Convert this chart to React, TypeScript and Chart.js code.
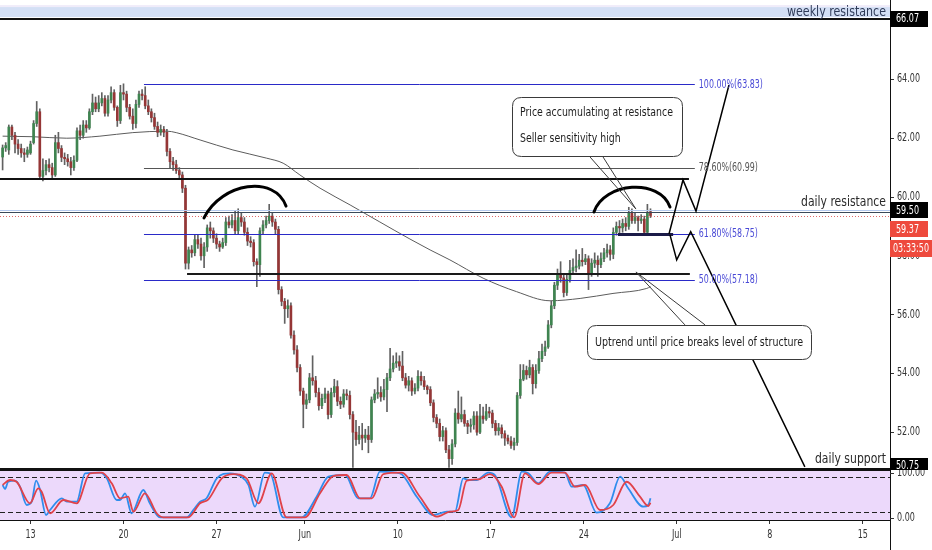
import React, { useEffect, useRef } from 'react';
import { Chart, registerables } from 'chart.js';

Chart.register(...registerables);

const FONT = '"DejaVu Sans Condensed", "DejaVu Sans", sans-serif';

// ---- 4h candles (bar index: 0 = Mon 13 May) ----
const firstBar = -9;
const opens = [
  61.36, 61.67, 61.60, 62.38, 62.10, 61.80, 61.65, 61.50, 61.45, 61.50,
  61.85, 62.50, 62.90, 60.70, 60.90, 61.10, 61.00, 60.75, 61.85, 61.65,
  61.35, 61.30, 61.20, 61.00, 61.25, 62.25, 62.10, 62.45, 62.35, 62.90,
  63.20, 63.00, 63.20, 63.35, 62.85, 63.30, 63.55, 63.05, 62.60, 63.55,
  63.50, 63.05, 62.75, 62.50, 63.15, 63.50, 63.45, 63.10, 62.90, 62.70,
  62.40, 62.20, 62.30, 62.20, 61.55, 61.20, 61.10, 60.90, 60.75, 60.30,
  57.75, 58.20, 58.10, 58.55, 58.40, 58.00, 58.30, 58.95, 58.85, 58.60,
  58.40, 58.30, 58.45, 59.15, 59.05, 59.20, 58.85, 59.30, 59.15, 58.80,
  58.50, 58.45, 57.80, 57.70, 58.85, 59.05, 59.20, 59.35, 59.15, 58.90,
  56.85, 56.45, 56.20, 56.30, 55.30, 54.80, 54.20, 53.40, 52.95, 53.10,
  53.85, 53.75, 53.35, 52.90, 53.15, 53.30, 52.60, 53.35, 53.55, 53.05,
  52.95, 53.30, 53.25, 52.60, 52.00, 51.75, 51.90, 51.80, 51.90, 51.75,
  53.10, 53.30, 53.35, 53.20, 53.45, 53.85, 54.15, 54.35, 54.40, 54.25,
  53.85, 53.60, 53.75, 53.40, 53.50, 53.90, 53.75, 53.55, 53.45, 53.00,
  52.50, 52.30, 51.85, 52.05, 51.40, 51.10, 51.60, 52.65, 52.45, 52.60,
  52.30, 52.20, 52.25, 52.55, 52.00, 52.55, 52.45, 52.70, 52.65, 52.30,
  52.05, 52.15, 51.95, 51.80, 51.70, 51.55, 51.65, 53.25, 53.80, 54.10,
  53.95, 54.20, 53.65, 54.10, 54.50, 54.75, 54.90, 55.65, 56.30, 57.00,
  57.35, 57.25, 56.75, 57.20, 57.50, 57.60, 57.65, 57.85, 57.80, 57.90,
  57.40, 57.75, 57.85, 57.70, 57.90, 58.10, 58.20, 58.05, 58.80, 59.00,
  58.95, 59.10, 59.00, 59.45, 59.20, 59.30, 59.20, 59.25, 58.80, 59.50,
];
const highs = [
  61.77, 61.85, 62.45, 62.45, 62.20, 61.95, 61.80, 61.65, 61.70, 61.90,
  62.60, 63.25, 63.00, 61.30, 61.25, 61.30, 61.15, 62.10, 62.20, 61.75,
  61.50, 61.45, 61.35, 61.40, 62.35, 62.45, 62.60, 62.60, 63.00, 63.50,
  63.40, 63.45, 63.55, 63.45, 63.45, 63.75, 63.65, 63.10, 63.80, 63.85,
  63.60, 63.15, 63.00, 63.30, 63.60, 63.65, 63.75, 63.30, 63.00, 62.85,
  62.55, 62.45, 62.40, 62.30, 61.65, 61.35, 61.25, 61.00, 60.85, 60.40,
  58.30, 58.35, 58.70, 58.70, 58.60, 58.45, 59.05, 59.15, 58.95, 58.75,
  58.50, 58.60, 59.30, 59.35, 59.40, 59.55, 59.60, 59.45, 59.30, 58.95,
  58.65, 58.55, 57.90, 58.95, 59.20, 59.35, 59.75, 59.45, 59.25, 59.00,
  56.95, 56.55, 56.50, 56.40, 55.45, 54.95, 54.30, 53.50, 53.30, 54.00,
  54.60, 53.90, 53.50, 53.30, 53.50, 53.40, 53.50, 53.80, 53.75, 53.20,
  53.45, 53.45, 53.40, 52.70, 52.40, 52.20, 52.30, 52.10, 52.20, 53.20,
  53.45, 53.85, 53.55, 53.80, 54.00, 54.85, 54.60, 54.70, 54.60, 54.75,
  54.00, 53.90, 53.85, 53.65, 54.10, 54.05, 53.90, 53.60, 53.55, 53.10,
  52.60, 52.45, 52.20, 52.15, 51.55, 51.75, 52.80, 53.40, 53.20, 52.75,
  52.40, 52.45, 52.70, 52.70, 52.95, 52.85, 52.95, 52.85, 52.75, 52.40,
  52.30, 52.25, 52.05, 51.90, 51.85, 51.80, 53.35, 54.30, 54.30, 54.25,
  54.45, 54.30, 54.30, 54.75, 55.00, 55.10, 55.80, 56.45, 57.10, 57.55,
  57.80, 57.35, 57.35, 57.85, 57.90, 58.20, 58.05, 58.25, 58.05, 58.00,
  57.90, 58.10, 58.00, 58.10, 58.25, 58.40, 58.35, 58.95, 59.15, 59.20,
  59.25, 59.30, 59.65, 59.60, 59.45, 59.35, 59.40, 59.35, 59.75, 59.60,
];
const lows = [
  60.92, 61.55, 61.45, 61.95, 61.50, 61.45, 61.35, 61.20, 61.35, 61.45,
  61.80, 62.40, 60.60, 60.55, 60.75, 60.85, 60.65, 60.70, 61.50, 61.20,
  61.10, 61.05, 60.75, 60.90, 61.20, 61.95, 62.00, 62.20, 62.30, 62.80,
  62.90, 62.90, 63.10, 62.75, 62.75, 63.20, 62.95, 62.40, 62.50, 63.30,
  62.90, 62.65, 62.30, 62.35, 63.05, 63.30, 63.00, 62.80, 62.55, 62.30,
  62.05, 62.10, 62.05, 61.40, 61.00, 60.90, 60.80, 60.60, 60.15, 57.55,
  57.55, 57.95, 58.00, 58.25, 57.85, 57.60, 58.15, 58.60, 58.45, 58.25,
  58.15, 58.25, 58.35, 58.95, 58.95, 58.75, 58.75, 59.00, 58.70, 58.35,
  58.30, 57.65, 56.95, 57.30, 58.75, 58.95, 59.10, 59.00, 58.75, 56.70,
  56.30, 55.70, 55.90, 55.20, 54.65, 54.05, 53.25, 52.15, 52.80, 53.00,
  53.60, 53.20, 52.75, 52.80, 53.00, 52.45, 52.50, 53.20, 52.90, 52.80,
  52.85, 53.10, 52.45, 50.80, 51.55, 51.60, 51.40, 51.65, 51.30, 51.65,
  53.00, 53.15, 53.05, 53.10, 52.70, 53.75, 54.05, 54.20, 54.10, 53.75,
  53.50, 53.40, 53.25, 53.30, 53.40, 53.60, 53.45, 53.30, 52.90, 52.35,
  52.15, 51.70, 51.70, 51.30, 50.80, 50.90, 51.50, 52.30, 52.35, 52.20,
  51.95, 52.00, 52.10, 51.90, 51.95, 52.30, 52.40, 52.50, 52.15, 51.90,
  51.90, 51.80, 51.55, 51.60, 51.45, 51.40, 51.55, 53.15, 53.75, 53.80,
  53.85, 53.30, 53.50, 54.00, 54.40, 54.60, 54.85, 55.55, 56.20, 56.85,
  57.10, 56.60, 56.65, 57.10, 57.40, 57.45, 57.55, 57.65, 57.70, 56.85,
  57.30, 57.60, 57.30, 57.60, 57.80, 57.95, 57.85, 57.90, 58.70, 58.75,
  58.80, 58.85, 58.90, 59.10, 59.10, 58.85, 59.10, 58.70, 58.70, 59.30,
];
const closes = [
  61.67, 61.75, 62.38, 62.10, 61.80, 61.65, 61.50, 61.45, 61.60, 61.80,
  62.50, 62.90, 60.70, 60.90, 61.10, 61.00, 60.75, 61.85, 61.65, 61.35,
  61.30, 61.20, 61.00, 61.25, 62.25, 62.10, 62.45, 62.35, 62.90, 63.20,
  63.00, 63.20, 63.35, 62.85, 63.30, 63.55, 63.05, 62.60, 63.55, 63.50,
  63.05, 62.75, 62.50, 63.15, 63.50, 63.45, 63.10, 62.90, 62.70, 62.40,
  62.20, 62.30, 62.20, 61.55, 61.20, 61.10, 60.90, 60.75, 60.30, 57.75,
  58.20, 58.10, 58.55, 58.40, 58.00, 58.30, 58.95, 58.85, 58.60, 58.40,
  58.30, 58.45, 59.15, 59.05, 59.20, 58.85, 59.30, 59.15, 58.80, 58.50,
  58.45, 57.80, 57.70, 58.85, 59.05, 59.20, 59.35, 59.15, 58.90, 56.85,
  56.45, 56.20, 56.30, 55.30, 54.80, 54.20, 53.40, 52.95, 53.10, 53.85,
  53.75, 53.35, 52.90, 53.15, 53.30, 52.60, 53.35, 53.55, 53.05, 52.95,
  53.30, 53.25, 52.60, 52.00, 51.75, 51.90, 51.80, 51.90, 51.75, 53.10,
  53.30, 53.35, 53.20, 53.45, 53.85, 54.15, 54.35, 54.40, 54.25, 53.85,
  53.60, 53.75, 53.40, 53.50, 53.90, 53.75, 53.55, 53.45, 53.00, 52.50,
  52.30, 51.85, 52.05, 51.40, 51.10, 51.60, 52.65, 52.45, 52.60, 52.30,
  52.20, 52.25, 52.55, 52.00, 52.55, 52.45, 52.70, 52.65, 52.30, 52.05,
  52.15, 51.95, 51.80, 51.70, 51.55, 51.65, 53.25, 53.80, 54.10, 53.95,
  54.20, 53.65, 54.10, 54.50, 54.75, 54.90, 55.65, 56.30, 57.00, 57.35,
  57.25, 56.75, 57.20, 57.50, 57.60, 57.65, 57.85, 57.80, 57.90, 57.40,
  57.75, 57.85, 57.70, 57.90, 58.10, 58.20, 58.05, 58.80, 59.00, 58.95,
  59.10, 59.00, 59.45, 59.20, 59.30, 59.20, 59.25, 58.80, 59.45, 59.37,
];

// ---- moving average (read at sparse bars) ----
const maBars = [-9, 0.8, 11.7, 22.4, 33, 44, 47, 54.7, 65.3, 76.2, 81.5, 86.9, 93.4, 103.1, 112.7, 122.4, 128.9, 135.3, 146, 156.8, 167.6, 177.3, 187.9, 198.8, 200];
const maValues = [62.07, 62.05, 62.0, 62.07, 62.19, 62.24, 62.19, 61.94, 61.6, 61.32, 61.15, 60.75, 60.3, 59.73, 59.15, 58.57, 58.2, 57.86, 57.24, 56.78, 56.47, 56.55, 56.72, 56.89, 56.95];

// ---- stochastic ----
const stochKBars = [-9, -8.2, -7.2, -5, -3.4, -1.2, 0.4, 1.8, 3.1, 5, 6.3, 10.1, 11.7, 14.9, 17.6, 22.4, 24.6, 27.8, 28.9, 30.5, 32.6, 36.4, 38.5, 41.8, 50.4, 52.5, 54.7, 56.8, 60.1, 64.4, 67.6, 70.3, 72.4, 75.6, 77.3, 81.5, 87.5, 92.3, 96.1, 101.5, 105.7, 109.5, 112.7, 119.2, 124.6, 129.9, 134.3, 136.9, 139.6, 141.2, 143.9, 147.7, 149.8, 155.2, 158.5, 160.6, 163.8, 167.6, 172.4, 174.6, 178.3, 182.6, 186.9, 190.2, 192.8, 197.7, 199.3, 200];
const stochKValues = [66.3, 59.4, 71.9, 73.7, 63.4, 32.0, 37.7, 73.7, 57.7, 14.9, 23.4, 43.5, 37.7, 37.7, 86.3, 87.4, 77.8, 40.6, 40.6, 52.1, 17.8, 57.7, 34.9, 10.9, 10.9, 23.4, 37.7, 43.5, 77.8, 86.3, 81.7, 66.3, 29.1, 87.4, 86.3, 10.9, 10.9, 46.2, 80.5, 83.4, 43.5, 43.5, 89.1, 86.3, 46.2, 14.9, 20.5, 20.5, 77.8, 74.9, 74.9, 87.4, 83.4, 10.9, 89.1, 86.3, 69.2, 89.1, 87.4, 63.4, 66.3, 18.8, 34.9, 80.5, 60.6, 29.1, 32.0, 43.5];
const stochDBars = [-9, -6.6, -4.5, -0.2, 2.5, 3.6, 6.3, 10.6, 14.9, 19.2, 23.0, 26.2, 28.9, 31.5, 33.2, 36.9, 40.7, 42.8, 50.9, 54.7, 57.4, 61.7, 65.4, 69.7, 73.5, 77.8, 82.6, 88.5, 93.4, 97.7, 102.0, 106.3, 110.1, 113.8, 119.7, 125.6, 131.0, 135.3, 138.0, 140.7, 144.5, 148.2, 152.0, 156.0, 159.5, 163.8, 168.1, 172.4, 175.6, 178.9, 183.7, 188.0, 192.3, 196.6, 199.3, 200];
const stochDValues = [66.3, 74.9, 71.9, 34.9, 60.6, 54.8, 17.8, 40.6, 34.9, 86.3, 87.4, 69.2, 43.5, 46.2, 20.5, 52.1, 17.8, 10.9, 10.9, 34.9, 41.8, 77.8, 85.1, 77.8, 34.9, 86.3, 10.9, 10.9, 52.1, 81.7, 83.4, 43.5, 43.5, 85.1, 87.4, 46.2, 12.0, 20.5, 23.4, 73.7, 76.1, 85.1, 63.4, 10.9, 86.3, 68.0, 87.4, 87.4, 63.4, 66.3, 23.4, 32.0, 71.9, 46.2, 30.3, 35.9];
const stochBands = [80, 20];
const stochTicks = [100, 0];

// ---- axes ----
const dateTickBars = [0, 30, 60, 88.5, 118.5, 148.5, 178.5, 208.5, 238.5, 268.5];
const dateTickLabels = ['13', '20', '27', 'Jun', '10', '17', '24', 'Jul', '8', '15'];
const priceTicks = [52, 54, 56, 58, 60, 62, 64, 66];

// ---- levels & drawings (price units / bar units) ----
const weeklyResistance = 66.07;
const weeklyZone = [66.12, 66.46];
const dailyResistance = 59.5;
const dailySupport = 50.75;
const countdown = '03:33:50';
const upperZone = 60.6;
const structureLevel = 57.38;
const ledgeLevel = 58.75;
const fibLevels = [63.83, 60.99, 58.75, 57.18];
const fibLabels = ['100.00%(63.83)', '78.60%(60.99)', '61.80%(58.75)', '50.00%(57.18)'];
const fibSpan = [36.6, 214.3];
const upperZoneEnd = 212.4;
const structureSpan = [50.5, 212.7];
const ledgeSpan = [189.5, 207.3];
const leftArc = [[55.97, 59.29], [61.77, 60.51], [78.87, 60.75], [82.42, 59.69]];
const rightArc = [[181.77, 59.49], [184.99, 60.51], [203.06, 60.65], [206.29, 59.66]];
const bullPath = [[205.97, 58.74], [210.48, 60.58], [214.68, 59.52], [225.32, 63.81]];
const bearPath = [[206.29, 58.71], [208.45, 57.86], [212.97, 58.82], [249.8, 50.82]];
const callout1Box = [155.2, 210.1, 63.39, 61.37];
const callout1Tail = [[180.5, 61.36], [184.7, 61.36], [195.3, 59.59]];
const callout1Text = ['Price accumulating at resistance', 'Seller sensitivity high'];
const callout1TextPos = [[157.9, 62.86], [157.9, 61.97]];
const callout2Box = [179.4, 251.7, 55.65, 54.48];
const callout2Tail = [[211.1, 55.65], [217.6, 55.65], [195.3, 57.45]];
const callout2Text = 'Uptrend until price breaks level of structure';
const callout2TextPos = [182.1, 55.03];

const X_MIN = -9.84;
const X_MAX = 277.26;

const GREEN = '#3f8450';
const RED = '#953636';

function xScaleFor(ctx: CanvasRenderingContext2D, text: string, size: number, targetW: number) {
  ctx.font = `${size}px ${FONT}`;
  return targetW / ctx.measureText(text).width;
}

function drawText(ctx: CanvasRenderingContext2D, text: string, x: number, y: number, size: number, sx: number, align: CanvasTextAlign, color: string) {
  ctx.save();
  ctx.font = `${size}px ${FONT}`;
  ctx.fillStyle = color;
  ctx.textBaseline = 'middle';
  ctx.textAlign = align;
  ctx.translate(x, y);
  ctx.scale(sx, 1);
  ctx.fillText(text, 0, 0);
  ctx.restore();
}

function hline(ctx: CanvasRenderingContext2D, x0: number, x1: number, y: number, color: string, width: number, dash: number[] = []) {
  ctx.save();
  ctx.strokeStyle = color;
  ctx.lineWidth = width;
  ctx.setLineDash(dash);
  const yy = width % 2 === 1 ? Math.round(y) + 0.5 : Math.round(y);
  ctx.beginPath();
  ctx.moveTo(x0, yy);
  ctx.lineTo(x1, yy);
  ctx.stroke();
  ctx.restore();
}

function roundRect(ctx: CanvasRenderingContext2D, x: number, y: number, w: number, h: number, r: number) {
  ctx.beginPath();
  ctx.moveTo(x + r, y);
  ctx.lineTo(x + w - r, y);
  ctx.quadraticCurveTo(x + w, y, x + w, y + r);
  ctx.lineTo(x + w, y + h - r);
  ctx.quadraticCurveTo(x + w, y + h, x + w - r, y + h);
  ctx.lineTo(x + r, y + h);
  ctx.quadraticCurveTo(x, y + h, x, y + h - r);
  ctx.lineTo(x, y + r);
  ctx.quadraticCurveTo(x, y, x + r, y);
  ctx.closePath();
}

const AXIS_SIZE = 11.5;

const mainDrawings = {
  id: 'mainDrawings',
  beforeDatasetsDraw(chart: any) {
    const { ctx, chartArea: a } = chart;
    const Y = (v: number) => chart.scales.y.getPixelForValue(v);
    ctx.save();
    ctx.fillStyle = '#f0ecfa';
    ctx.fillRect(a.left, Y(weeklyZone[1]) - 2, a.right - a.left, 2);
    ctx.fillStyle = '#d3dff5';
    ctx.fillRect(a.left, Y(weeklyZone[1]), a.right - a.left, Y(weeklyZone[0]) - Y(weeklyZone[1]));
    ctx.restore();
  },
  afterDatasetsDraw(chart: any) {
    const { ctx, chartArea: a } = chart;
    const X = (v: number) => chart.scales.x.getPixelForValue(v);
    const Y = (v: number) => chart.scales.y.getPixelForValue(v);
    const lastClose = closes[closes.length - 1];
    ctx.save();
    ctx.beginPath();
    ctx.rect(a.left, a.top, a.right - a.left, a.bottom - a.top);
    ctx.clip();

    hline(ctx, a.left, a.right, Y(weeklyResistance), '#111', 2);
    hline(ctx, a.left, a.right, Y(dailyResistance) - 2, '#b4c9ee', 1);
    hline(ctx, a.left, a.right, Y(dailyResistance), '#3a4858', 1);
    hline(ctx, a.left, a.right, Y(lastClose), '#e06a6a', 1, [1, 2]);
    hline(ctx, a.left, a.right, Y(dailySupport), '#111', 2);

    hline(ctx, a.left, X(upperZoneEnd), Y(upperZone), '#111', 2);
    hline(ctx, X(structureSpan[0]), X(structureSpan[1]), Y(structureLevel), '#1a1a1a', 2);
    const fibColors = ['#2a2ac8', '#555555', '#2a2ac8', '#2a2ac8'];
    fibLevels.forEach((lv, k) => hline(ctx, X(fibSpan[0]), X(fibSpan[1]), Y(lv), fibColors[k], 1));
    hline(ctx, X(ledgeSpan[0]), X(ledgeSpan[1]), Y(ledgeLevel), '#1b1b48', 3);

    ctx.strokeStyle = '#000';
    ctx.lineWidth = 3;
    ctx.lineCap = 'round';
    [leftArc, rightArc].forEach((arc) => {
      ctx.beginPath();
      ctx.moveTo(X(arc[0][0]), Y(arc[0][1]));
      ctx.bezierCurveTo(X(arc[1][0]), Y(arc[1][1]), X(arc[2][0]), Y(arc[2][1]), X(arc[3][0]), Y(arc[3][1]));
      ctx.stroke();
    });

    ctx.lineWidth = 1.5;
    ctx.lineCap = 'butt';
    ctx.lineJoin = 'miter';
    [bullPath, bearPath].forEach((p) => {
      ctx.beginPath();
      p.forEach(([b, v], k) => (k === 0 ? ctx.moveTo(X(b), Y(v)) : ctx.lineTo(X(b), Y(v))));
      ctx.stroke();
    });

    const drawCallout = (box: number[], tail: number[][]) => {
      const x0 = X(box[0]), x1 = X(box[1]), y0 = Y(box[2]), y1 = Y(box[3]);
      ctx.fillStyle = '#fff';
      ctx.strokeStyle = '#3a3a3a';
      ctx.lineWidth = 1;
      roundRect(ctx, Math.round(x0) + 0.5, Math.round(y0) + 0.5, Math.round(x1 - x0), Math.round(y1 - y0), 9);
      ctx.fill();
      ctx.stroke();
      ctx.beginPath();
      ctx.moveTo(X(tail[0][0]), Y(tail[0][1]));
      ctx.lineTo(X(tail[2][0]), Y(tail[2][1]));
      ctx.lineTo(X(tail[1][0]), Y(tail[1][1]));
      ctx.stroke();
    };
    drawCallout(callout1Box, callout1Tail);
    drawCallout(callout2Box, callout2Tail);

    const cSx = xScaleFor(ctx, callout1Text[0], 12.5, 153);
    callout1Text.forEach((t, k) => drawText(ctx, t, X(callout1TextPos[k][0]), Y(callout1TextPos[k][1]), 12.5, cSx, 'left', '#1e1e1e'));
    const c2Sx = xScaleFor(ctx, callout2Text, 12.5, 208);
    drawText(ctx, callout2Text, X(callout2TextPos[0]), Y(callout2TextPos[1]), 12.5, c2Sx, 'left', '#1e1e1e');

    const fSx = xScaleFor(ctx, fibLabels[0], 12, 64);
    const fibTextColors = ['#4a4ad6', '#555555', '#4a4ad6', '#4a4ad6'];
    fibLevels.forEach((lv, k) => drawText(ctx, fibLabels[k], X(fibSpan[1]) + 4, Y(lv), 12, fSx, 'left', fibTextColors[k]));

    const wSx = xScaleFor(ctx, 'weekly resistance', 14.5, 99);
    drawText(ctx, 'weekly resistance', a.right - 4, Y((weeklyZone[0] + weeklyZone[1]) / 2), 14.5, wSx, 'right', '#2f3b58');
    const dSx = xScaleFor(ctx, 'daily resistance', 14.5, 85);
    drawText(ctx, 'daily resistance', a.right - 4, Y(dailyResistance) - 9, 14.5, dSx, 'right', '#2a2a2a');
    drawText(ctx, 'daily support', a.right - 4, Y(dailySupport) - 10, 14.5, dSx, 'right', '#2a2a2a');
    ctx.restore();
  },
  afterDraw(chart: any) {
    const { ctx, chartArea: a, width } = chart;
    const yScale = chart.scales.y;
    const Y = (v: number) => yScale.getPixelForValue(v);
    const lastClose = closes[closes.length - 1];
    const aSx = xScaleFor(ctx, '64.00', AXIS_SIZE, 23);
    ctx.save();
    yScale.ticks.forEach((t: any) => {
      drawText(ctx, Number(t.value).toFixed(2), a.right + 7, Y(t.value), AXIS_SIZE, aSx, 'left', '#333');
    });
    const box = (yc: number, h: number, bg: string, text: string, w: number, sx: number) => {
      ctx.fillStyle = bg;
      ctx.fillRect(a.right, Math.round(yc - h / 2), w, h);
      drawText(ctx, text, a.right + 6, yc + 0.5, AXIS_SIZE, sx, 'left', '#fff');
    };
    box(Y(weeklyResistance), 16, '#000', weeklyResistance.toFixed(2), 38, aSx);
    const yr = Y(dailyResistance) - 1.5;
    box(yr, 16, '#000', dailyResistance.toFixed(2), 38, aSx);
    box(yr + 19, 16, '#ee4a3d', lastClose.toFixed(2), 38, aSx);
    const tSx = xScaleFor(ctx, countdown, AXIS_SIZE, 36);
    ctx.fillStyle = '#ee4a3d';
    ctx.fillRect(a.right, Math.round(yr + 38 - 8.5), width - a.right, 17);
    drawText(ctx, countdown, a.right + 3, yr + 38.5, AXIS_SIZE, tSx, 'left', '#fff');
    box(Y(dailySupport) - 3, 16, '#000', dailySupport.toFixed(2), 38, aSx);
    ctx.restore();
  },
};

const stochDrawings = {
  id: 'stochDrawings',
  beforeDatasetsDraw(chart: any) {
    const { ctx, chartArea: a } = chart;
    const Y = (v: number) => chart.scales.y.getPixelForValue(v);
    ctx.save();
    ctx.fillStyle = '#ecd9fb';
    ctx.fillRect(a.left, a.top + 1, a.right - a.left, a.bottom - a.top - 1);
    stochBands.forEach((b) => hline(ctx, a.left, a.right, Y(b), '#222', 1, [5, 3]));
    ctx.restore();
  },
  afterDraw(chart: any) {
    const { ctx, chartArea: a, height } = chart;
    const Y = (v: number) => chart.scales.y.getPixelForValue(v);
    const xs = chart.scales.x;
    const aSx = xScaleFor(ctx, '64.00', AXIS_SIZE, 23);
    ctx.save();
    hline(ctx, a.left, a.right, a.top, '#111', 1);
    ctx.strokeStyle = '#111';
    ctx.lineWidth = 1;
    ctx.beginPath();
    ctx.moveTo(a.right + 0.5, 0);
    ctx.lineTo(a.right + 0.5, height);
    ctx.stroke();
    stochTicks.forEach((t) => {
      const y = Math.min(Math.max(Y(t), a.top + 3), a.bottom - 2);
      hline(ctx, a.right, a.right + 4, y, '#333', 1);
      drawText(ctx, t.toFixed(2), a.right + 7, y, AXIS_SIZE, aSx, 'left', '#333');
    });
    xs.ticks.forEach((t: any, i: number) => {
      drawText(ctx, dateTickLabels[i], xs.getPixelForValue(t.value), a.bottom + 15.5, AXIS_SIZE, aSx, 'center', '#333');
    });
    ctx.restore();
  },
};

export default function App() {
  const mainRef = useRef<HTMLCanvasElement>(null);
  const stochRef = useRef<HTMLCanvasElement>(null);

  useEffect(() => {
    document.body.style.margin = '0';
    document.body.style.background = '#fff';
    const bars = opens.map((_, k) => firstBar + k);
    const bodyColors = closes.map((c, k) => (c >= opens[k] ? GREEN : RED));
    const noPad = (s: any) => { s.paddingTop = 0; s.paddingBottom = 0; s.paddingLeft = 0; s.paddingRight = 0; };

    const main = new Chart(mainRef.current!, {
      type: 'bar',
      data: {
        datasets: [
          {
            type: 'line',
            label: 'MA',
            data: maBars.map((b, k) => ({ x: b, y: maValues[k] })),
            borderColor: '#5c5c5c',
            borderWidth: 1,
            pointRadius: 0,
            cubicInterpolationMode: 'monotone',
            order: 3,
          } as any,
          {
            type: 'bar',
            label: 'wicks',
            data: bars.map((b, k) => ({ x: b, y: [lows[k], highs[k]] })),
            backgroundColor: '#616161',
            barThickness: 1,
            grouped: false,
            order: 2,
          } as any,
          {
            type: 'bar',
            label: 'bodies',
            data: bars.map((b, k) => ({ x: b, y: [opens[k], closes[k]] })),
            backgroundColor: bodyColors,
            barThickness: 2,
            minBarLength: 1,
            grouped: false,
            order: 1,
          } as any,
        ],
      },
      options: {
        animation: false,
        responsive: false,
        maintainAspectRatio: false,
        layout: { padding: 0 },
        events: [],
        plugins: { legend: { display: false }, tooltip: { enabled: false } },
        scales: {
          x: { type: 'linear', min: X_MIN, max: X_MAX, display: false, offset: false },
          y: {
            position: 'right',
            min: 50.714,
            max: 66.701,
            afterFit: (s: any) => { s.width = 42; noPad(s); },
            afterBuildTicks: (s: any) => { s.ticks = priceTicks.map((v) => ({ value: v })); },
            ticks: { display: false },
            grid: { drawOnChartArea: false, drawTicks: true, tickLength: 4, color: '#333' },
            border: { display: true, color: '#111', width: 1 },
          },
        },
      } as any,
      plugins: [mainDrawings],
    });

    const stoch = new Chart(stochRef.current!, {
      type: 'line',
      data: {
        datasets: [
          {
            label: '%K',
            data: stochKBars.map((b, k) => ({ x: b, y: stochKValues[k] })),
            borderColor: '#2f8ded',
            borderWidth: 1.8,
            pointRadius: 0,
            cubicInterpolationMode: 'monotone',
            order: 2,
          },
          {
            label: '%D',
            data: stochDBars.map((b, k) => ({ x: b, y: stochDValues[k] })),
            borderColor: '#e0424a',
            borderWidth: 1.8,
            pointRadius: 0,
            cubicInterpolationMode: 'monotone',
            order: 1,
          },
        ],
      },
      options: {
        animation: false,
        responsive: false,
        maintainAspectRatio: false,
        layout: { padding: 0 },
        events: [],
        plugins: { legend: { display: false }, tooltip: { enabled: false } },
        scales: {
          x: {
            type: 'linear',
            min: X_MIN,
            max: X_MAX,
            afterFit: (s: any) => { s.height = 30; noPad(s); },
            afterBuildTicks: (s: any) => { s.ticks = dateTickBars.map((v) => ({ value: v })); },
            ticks: { display: false, autoSkip: false },
            grid: { drawOnChartArea: false, drawTicks: true, tickLength: 4, color: '#333' },
            border: { display: true, color: '#111', width: 1 },
          },
          y: {
            position: 'right',
            min: 6.29,
            max: 92.0,
            afterFit: (s: any) => { s.width = 42; noPad(s); },
            ticks: { display: false },
            grid: { display: false },
            border: { display: false },
          },
        },
      } as any,
      plugins: [stochDrawings],
    });

    return () => {
      main.destroy();
      stoch.destroy();
    };
  }, []);

  return (
    <div style={{ width: 932, height: 550, background: '#fff' }}>
      <canvas ref={mainRef} width={932} height={470} style={{ display: 'block' }} />
      <canvas ref={stochRef} width={932} height={80} style={{ display: 'block' }} />
    </div>
  );
}
